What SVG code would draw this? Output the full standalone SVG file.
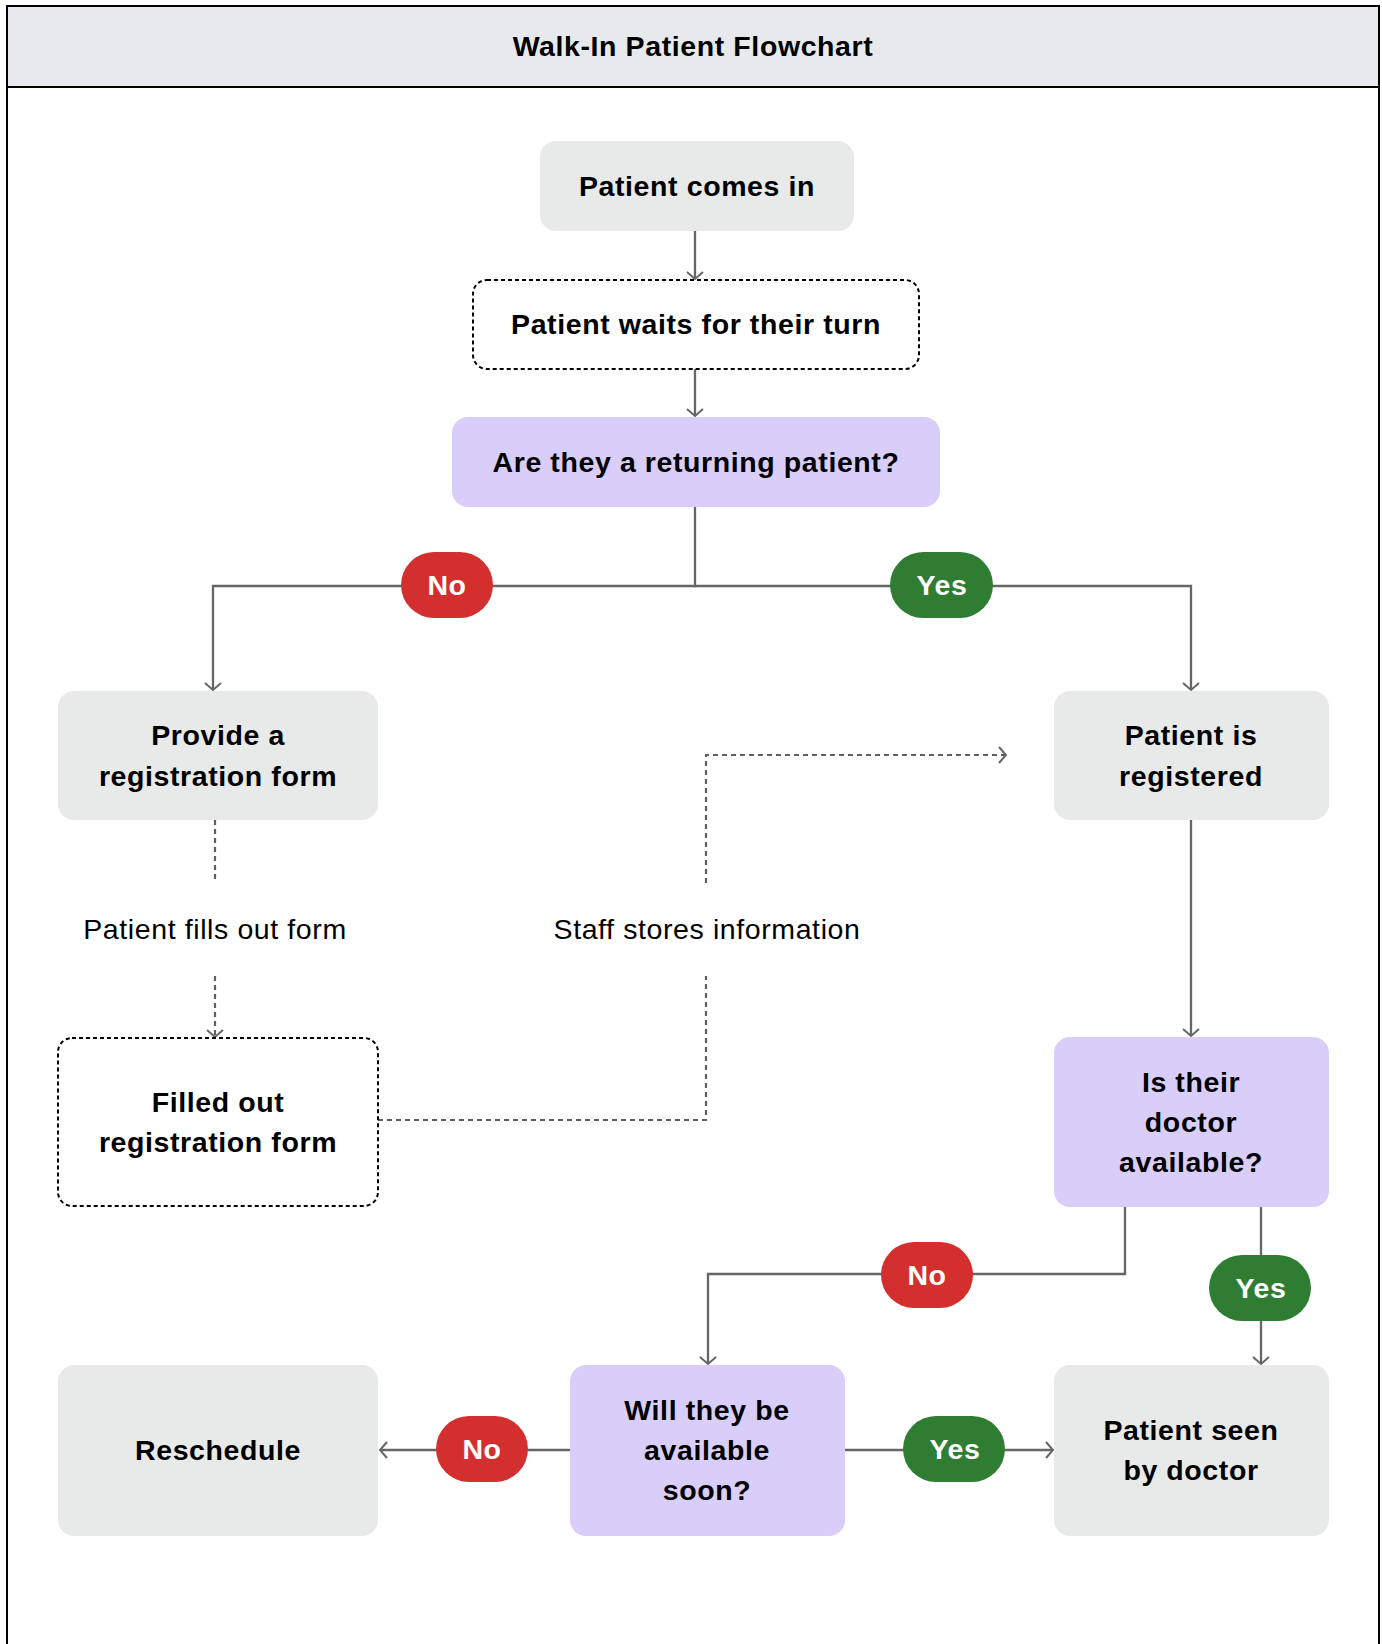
<svg xmlns="http://www.w3.org/2000/svg" width="1382" height="1644" viewBox="0 0 1382 1644">
<defs>
<style>
.t{font-family:"Liberation Sans",Arial,Helvetica,sans-serif;font-size:28.5px;font-weight:bold;fill:#000;text-anchor:middle;letter-spacing:0.6px}
.lbl{font-family:"Liberation Sans",Arial,Helvetica,sans-serif;font-size:28.5px;font-weight:normal;fill:#000;text-anchor:middle;letter-spacing:0.6px}
.pt{font-family:"Liberation Sans",Arial,Helvetica,sans-serif;font-size:28.5px;font-weight:bold;fill:#fff;text-anchor:middle;letter-spacing:0.6px}
.gray{fill:#e8e9e9}
.purple{fill:#d9cdf9}
.dash{fill:#fff;stroke:#000;stroke-width:2;stroke-dasharray:4 3}
.c{fill:none;stroke:#666;stroke-width:2.3}
.cd{fill:none;stroke:#5f5f5f;stroke-width:2.2;stroke-dasharray:5 4}
.no{fill:#d32f2f}
.yes{fill:#2e7d32}
</style>
<marker id="ah" markerUnits="userSpaceOnUse" markerWidth="20" markerHeight="20" viewBox="-10 -10 20 20" refX="0" refY="0" orient="auto">
<path d="M-7,-8 L0,0 L-7,8" fill="none" stroke="#666" stroke-width="2"/>
</marker>
</defs>
<rect x="0" y="0" width="1382" height="1644" fill="#fff"/>
<g id="frame">
<rect x="7" y="6" width="1372" height="81" fill="#e8e9ec"/>
<path d="M7,1650 V6 H1379 V1650" fill="none" stroke="#000" stroke-width="2"/>
<line x1="7" y1="87" x2="1379" y2="87" stroke="#000" stroke-width="2"/>
<text class="t" x="693" y="56">Walk-In Patient Flowchart</text>
</g>
<g id="connectors">
<path class="c" d="M695,231 V279" marker-end="url(#ah)"/>
<path class="c" d="M695,369 V416" marker-end="url(#ah)"/>
<path class="c" d="M695,507 V586 H213 V690" marker-end="url(#ah)"/>
<path class="c" d="M695,586 H1191 V690" marker-end="url(#ah)"/>
<path class="cd" d="M215,820 V883"/>
<path class="cd" d="M215,976 V1037" marker-end="url(#ah)"/>
<path class="cd" d="M378,1120 H706 V976"/>
<path class="cd" d="M706,883 V755 H1006" marker-end="url(#ah)"/>
<path class="c" d="M1191,820 V1036" marker-end="url(#ah)"/>
<path class="c" d="M1125,1207 V1274 H708 V1364" marker-end="url(#ah)"/>
<path class="c" d="M1261,1207 V1364" marker-end="url(#ah)"/>
<path class="c" d="M570,1450 H380" marker-end="url(#ah)"/>
<path class="c" d="M845,1450 H1053" marker-end="url(#ah)"/>
<text class="lbl" x="215" y="939">Patient fills out form</text>
<text class="lbl" x="707" y="939">Staff stores information</text>
<g id="pill-no-1"><rect class="no" x="401" y="552" width="92" height="66" rx="33"/><text class="pt" x="447" y="595">No</text></g>
<g id="pill-yes-1"><rect class="yes" x="890" y="552" width="103" height="66" rx="33"/><text class="pt" x="942" y="595">Yes</text></g>
<g id="pill-no-2"><rect class="no" x="881" y="1242" width="92" height="66" rx="33"/><text class="pt" x="927" y="1285">No</text></g>
<g id="pill-yes-2"><rect class="yes" x="1209" y="1255" width="102" height="66" rx="33"/><text class="pt" x="1261" y="1298">Yes</text></g>
<g id="pill-no-3"><rect class="no" x="436" y="1416" width="92" height="66" rx="33"/><text class="pt" x="482" y="1459">No</text></g>
<g id="pill-yes-3"><rect class="yes" x="903" y="1416" width="102" height="66" rx="33"/><text class="pt" x="955" y="1459">Yes</text></g>
</g>
<g id="n-comes-in"><rect class="gray" x="540" y="141" width="314" height="90" rx="16"/><text class="t" x="697" y="196">Patient comes in</text></g>
<g id="n-waits"><rect class="dash" x="473" y="280" width="446" height="89" rx="14"/><text class="t" x="696" y="334">Patient waits for their turn</text></g>
<g id="n-returning"><rect class="purple" x="452" y="417" width="488" height="90" rx="16"/><text class="t" x="696" y="472">Are they a returning patient?</text></g>
<g id="n-provide"><rect class="gray" x="58" y="691" width="320" height="129" rx="16"/><text class="t" x="218" y="745">Provide a</text><text class="t" x="218" y="786">registration form</text></g>
<g id="n-registered"><rect class="gray" x="1054" y="691" width="275" height="129" rx="16"/><text class="t" x="1191" y="745">Patient is</text><text class="t" x="1191" y="786">registered</text></g>
<g id="n-filled"><rect class="dash" x="58" y="1038" width="320" height="168" rx="14"/><text class="t" x="218" y="1112">Filled out</text><text class="t" x="218" y="1152">registration form</text></g>
<g id="n-doctor"><rect class="purple" x="1054" y="1037" width="275" height="170" rx="16"/><text class="t" x="1191" y="1092">Is their</text><text class="t" x="1191" y="1132">doctor</text><text class="t" x="1191" y="1172">available?</text></g>
<g id="n-reschedule"><rect class="gray" x="58" y="1365" width="320" height="171" rx="16"/><text class="t" x="218" y="1460">Reschedule</text></g>
<g id="n-soon"><rect class="purple" x="570" y="1365" width="275" height="171" rx="16"/><text class="t" x="707" y="1420">Will they be</text><text class="t" x="707" y="1460">available</text><text class="t" x="707" y="1500">soon?</text></g>
<g id="n-seen"><rect class="gray" x="1054" y="1365" width="275" height="171" rx="16"/><text class="t" x="1191" y="1440">Patient seen</text><text class="t" x="1191" y="1480">by doctor</text></g>
</svg>
